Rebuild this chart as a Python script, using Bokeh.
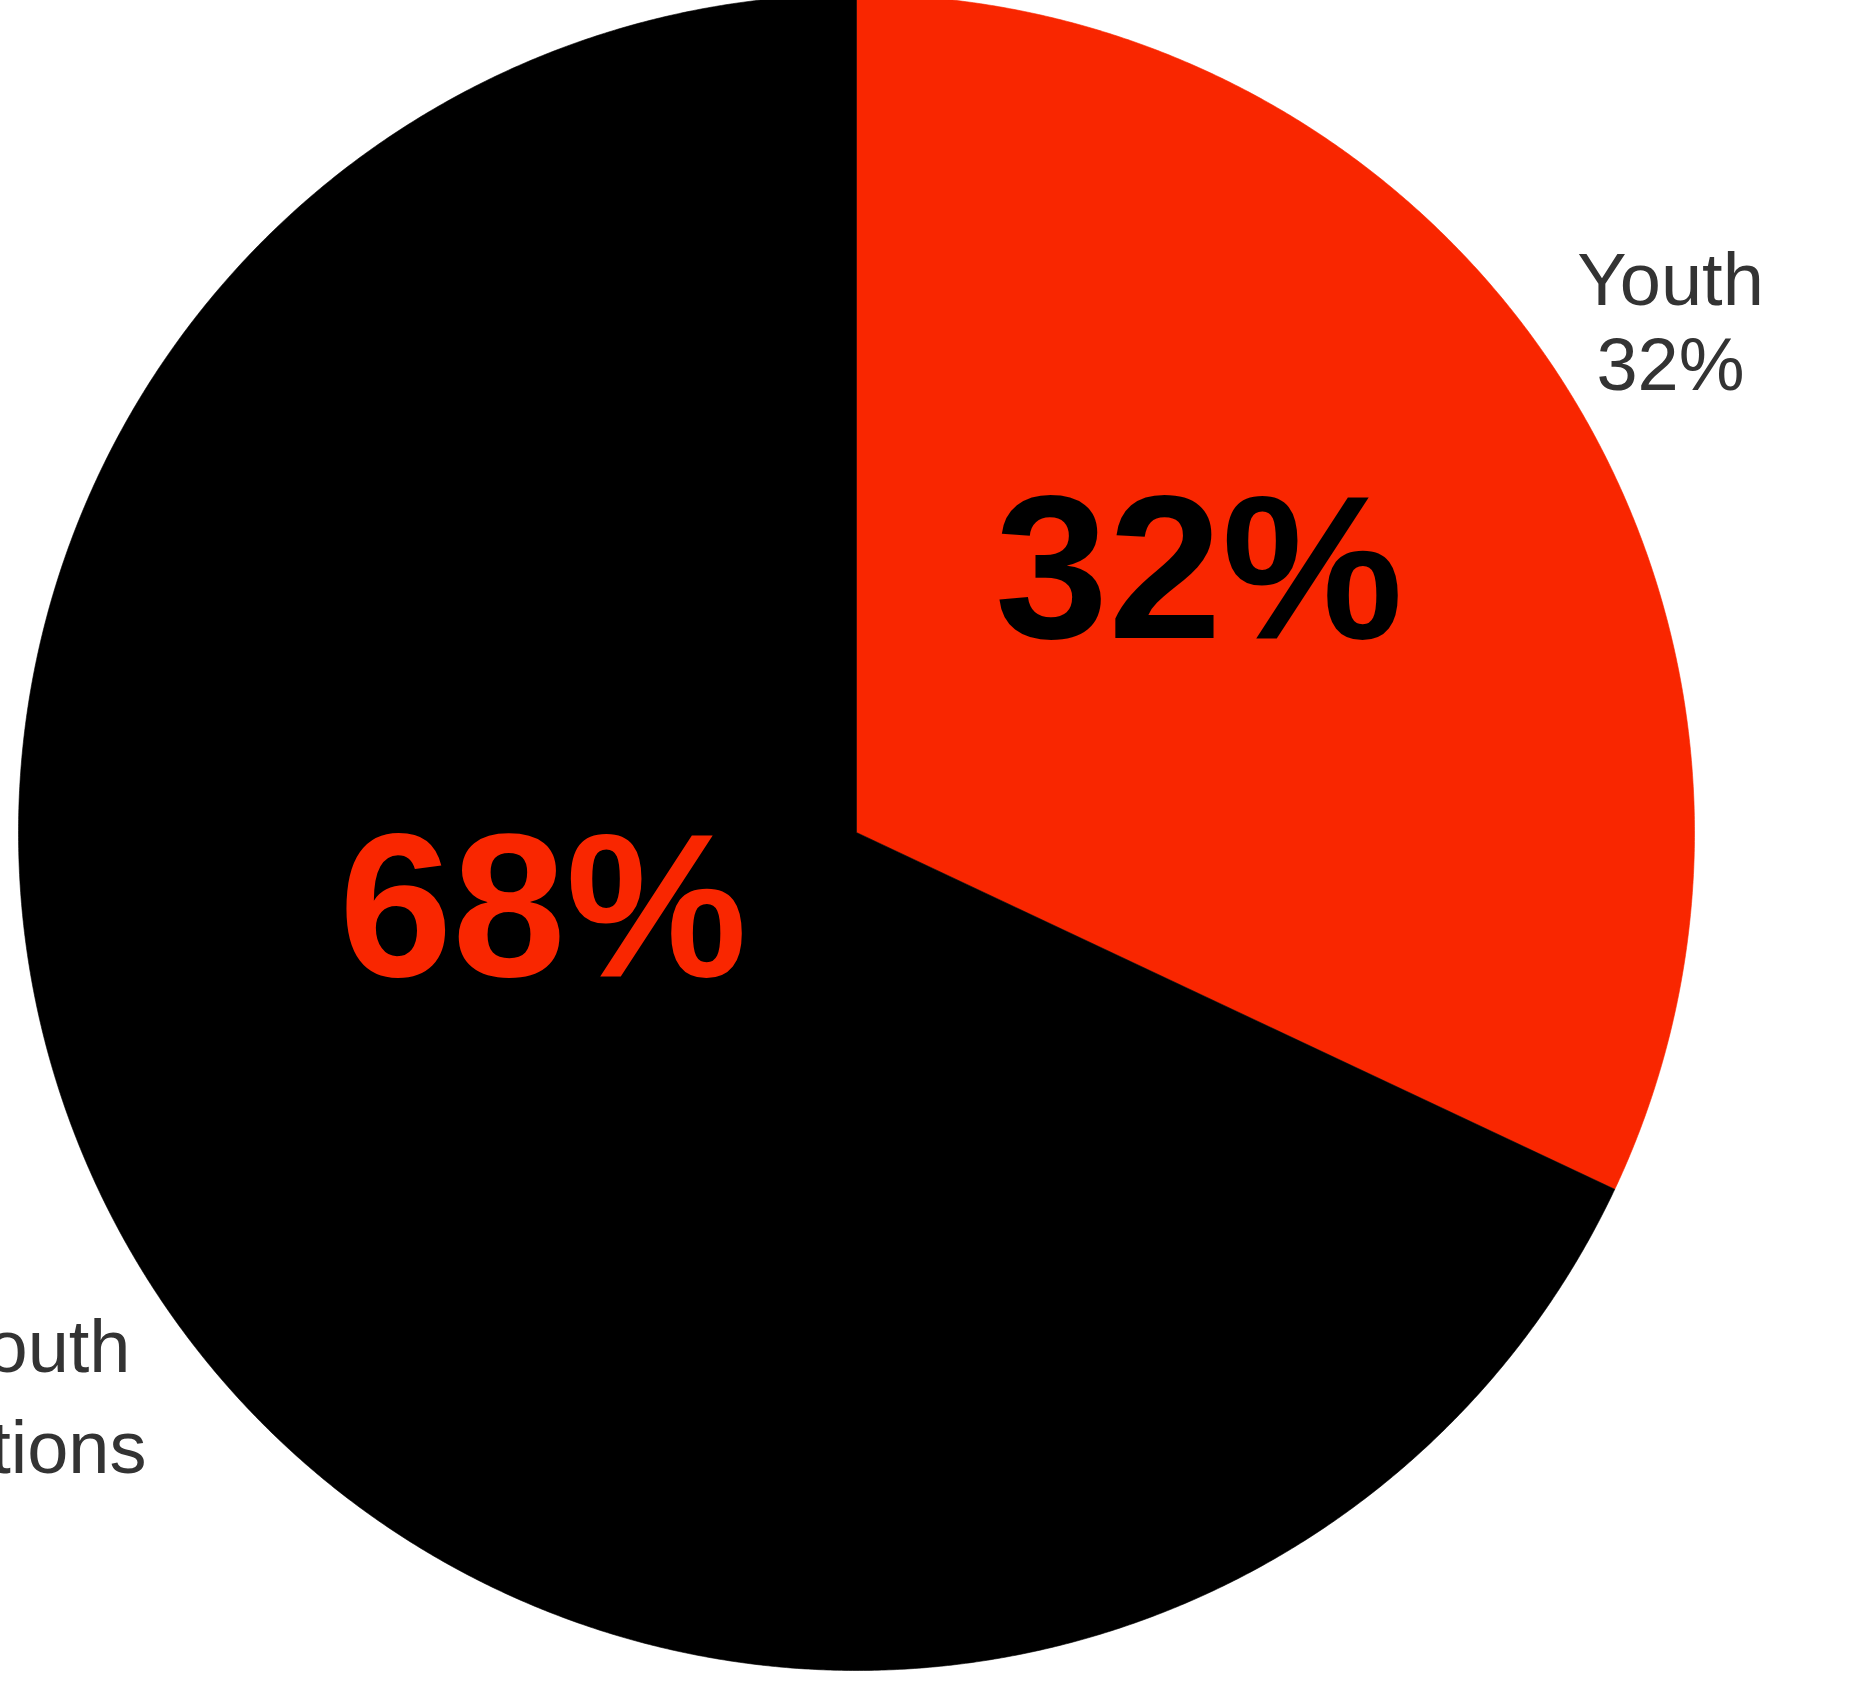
import math
import numpy as np
from bokeh.plotting import figure
from bokeh.models import Range1d, ColumnDataSource, Label
from bokeh.embed import file_html
from bokeh.resources import INLINE

# ---- data ----
categories = ["Youth", "Non-Youth"]
label_line2 = ["32%", "Organizations"]
shares = [32, 68]
colors = ["#F92600", "#000000"]
inner_text_colors = ["#000000", "#F92600"]

W, H = 1851, 1681
CX, CY, R = 864, H - 840, 838

p = figure(width=W, height=H, output_backend="svg", toolbar_location=None,
           x_range=Range1d(0, W), y_range=Range1d(0, H), min_border=0,
           outline_line_color=None)
p.styles = {"margin": "-8px"}
p.axis.visible = False
p.grid.visible = False

# slices, clockwise from 12 o'clock, built as polygons from the shares
total = sum(shares)
xs, ys, mids = [], [], []
acc = 0.0
for s in shares:
    a0 = math.pi / 2 - 2 * math.pi * acc / total
    a1 = math.pi / 2 - 2 * math.pi * (acc + s) / total
    n = max(int(abs(a1 - a0) / (2 * math.pi) * 1440), 8)
    t = np.linspace(a0, a1, n)
    xs.append([CX] + list(CX + R * np.cos(t)))
    ys.append([CY] + list(CY + R * np.sin(t)))
    mids.append((a0 + a1) / 2)
    acc += s

src = ColumnDataSource(dict(xs=xs, ys=ys, color=colors, name=categories))
p.patches(xs="xs", ys="ys", fill_color="color", line_color="color",
          line_width=0.6, source=src)

# big percentage labels inside slices
pct = [f"{s}%" for s in shares]
rl = 0.46 * R
xo = [17, 12]
yo = [59, 134]
for i in range(len(shares)):
    lx = CX + rl * math.cos(mids[i])
    ly = CY + rl * math.sin(mids[i])
    p.add_layout(Label(x=lx, y=ly, text=pct[i], text_align="center",
                       text_baseline="alphabetic", x_offset=xo[i], y_offset=yo[i],
                       text_font_style="bold",
                       text_font_size="204px", text_color=inner_text_colors[i]))

# outside labels
def lab(x, y, t, align):
    p.add_layout(Label(x=x, y=H - y, text=t, text_align=align,
                       text_baseline="alphabetic",
                       text_font_size="74px", text_color="#333333"))

lab(1678, 287, categories[0], "center")
lab(1678, 372, label_line2[0], "center")
lab(138, 1354, categories[1], "right")
lab(154, 1455, label_line2[1], "right")

open("out.html", "w").write(file_html(p, INLINE))
